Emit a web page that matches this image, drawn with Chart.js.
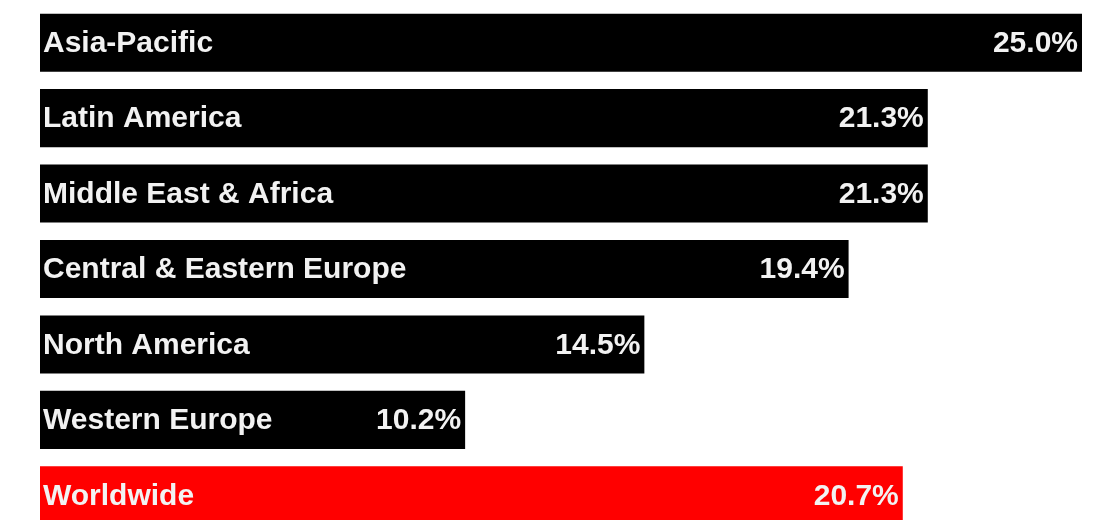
<!DOCTYPE html>
<html lang="en">

<head>
    <meta charset="UTF-8">
    <title>Growth by region</title>
    <script src="https://cdn.jsdelivr.net/npm/chart.js"></script>
    <style>
        html,
        body {
            margin: 0;
            padding: 0;
            background: #fff;
            overflow: hidden;
        }

        #wrap {
            width: 1111px;
            height: 520px;
            overflow: hidden;
        }
    </style>
</head>

<body>
    <div id="wrap">
        <canvas id="chart" width="1111" height="533"></canvas>
    </div>

    <script>
        // data
        const regions = ['Asia-Pacific', 'Latin America', 'Middle East & Africa', 'Central & Eastern Europe',
            'North America', 'Western Europe', 'Worldwide'];
        const growth = [25.0, 21.3, 21.3, 19.4, 14.5, 10.2, 20.7];
        const barColors = ['#000', '#000', '#000', '#000', '#000', '#000', '#ff0000'];

        // names at the left of each bar, values at the right
        const barLabels = {
            id: 'barLabels',
            afterDatasetsDraw(chart) {
                const ctx = chart.ctx;
                const meta = chart.getDatasetMeta(0);
                ctx.save();
                ctx.font = 'bold 30px "Liberation Sans", Arial, sans-serif';
                ctx.fillStyle = '#f2f2f2';
                ctx.textBaseline = 'middle';
                meta.data.forEach((bar, i) => {
                    ctx.textAlign = 'left';
                    ctx.fillText(regions[i], bar.base + 3, bar.y + 1);
                    ctx.textAlign = 'right';
                    ctx.fillText(growth[i].toFixed(1) + '%', bar.x - 4, bar.y + 1);
                });
                ctx.restore();
            }
        };

        new Chart(document.getElementById('chart'), {
            type: 'bar',
            data: {
                labels: regions,
                datasets: [{
                    data: growth,
                    backgroundColor: barColors,
                    borderWidth: 0,
                    categoryPercentage: 1,
                    barPercentage: 0.77
                }]
            },
            options: {
                indexAxis: 'y',
                responsive: false,
                animation: false,
                layout: {
                    padding: { left: 40, right: 29, top: 5, bottom: 0 }
                },
                scales: {
                    x: { display: false, min: 0, max: 25 },
                    y: { display: false }
                },
                plugins: {
                    legend: { display: false },
                    tooltip: { enabled: false }
                }
            },
            plugins: [barLabels]
        });
    </script>
</body>

</html>
